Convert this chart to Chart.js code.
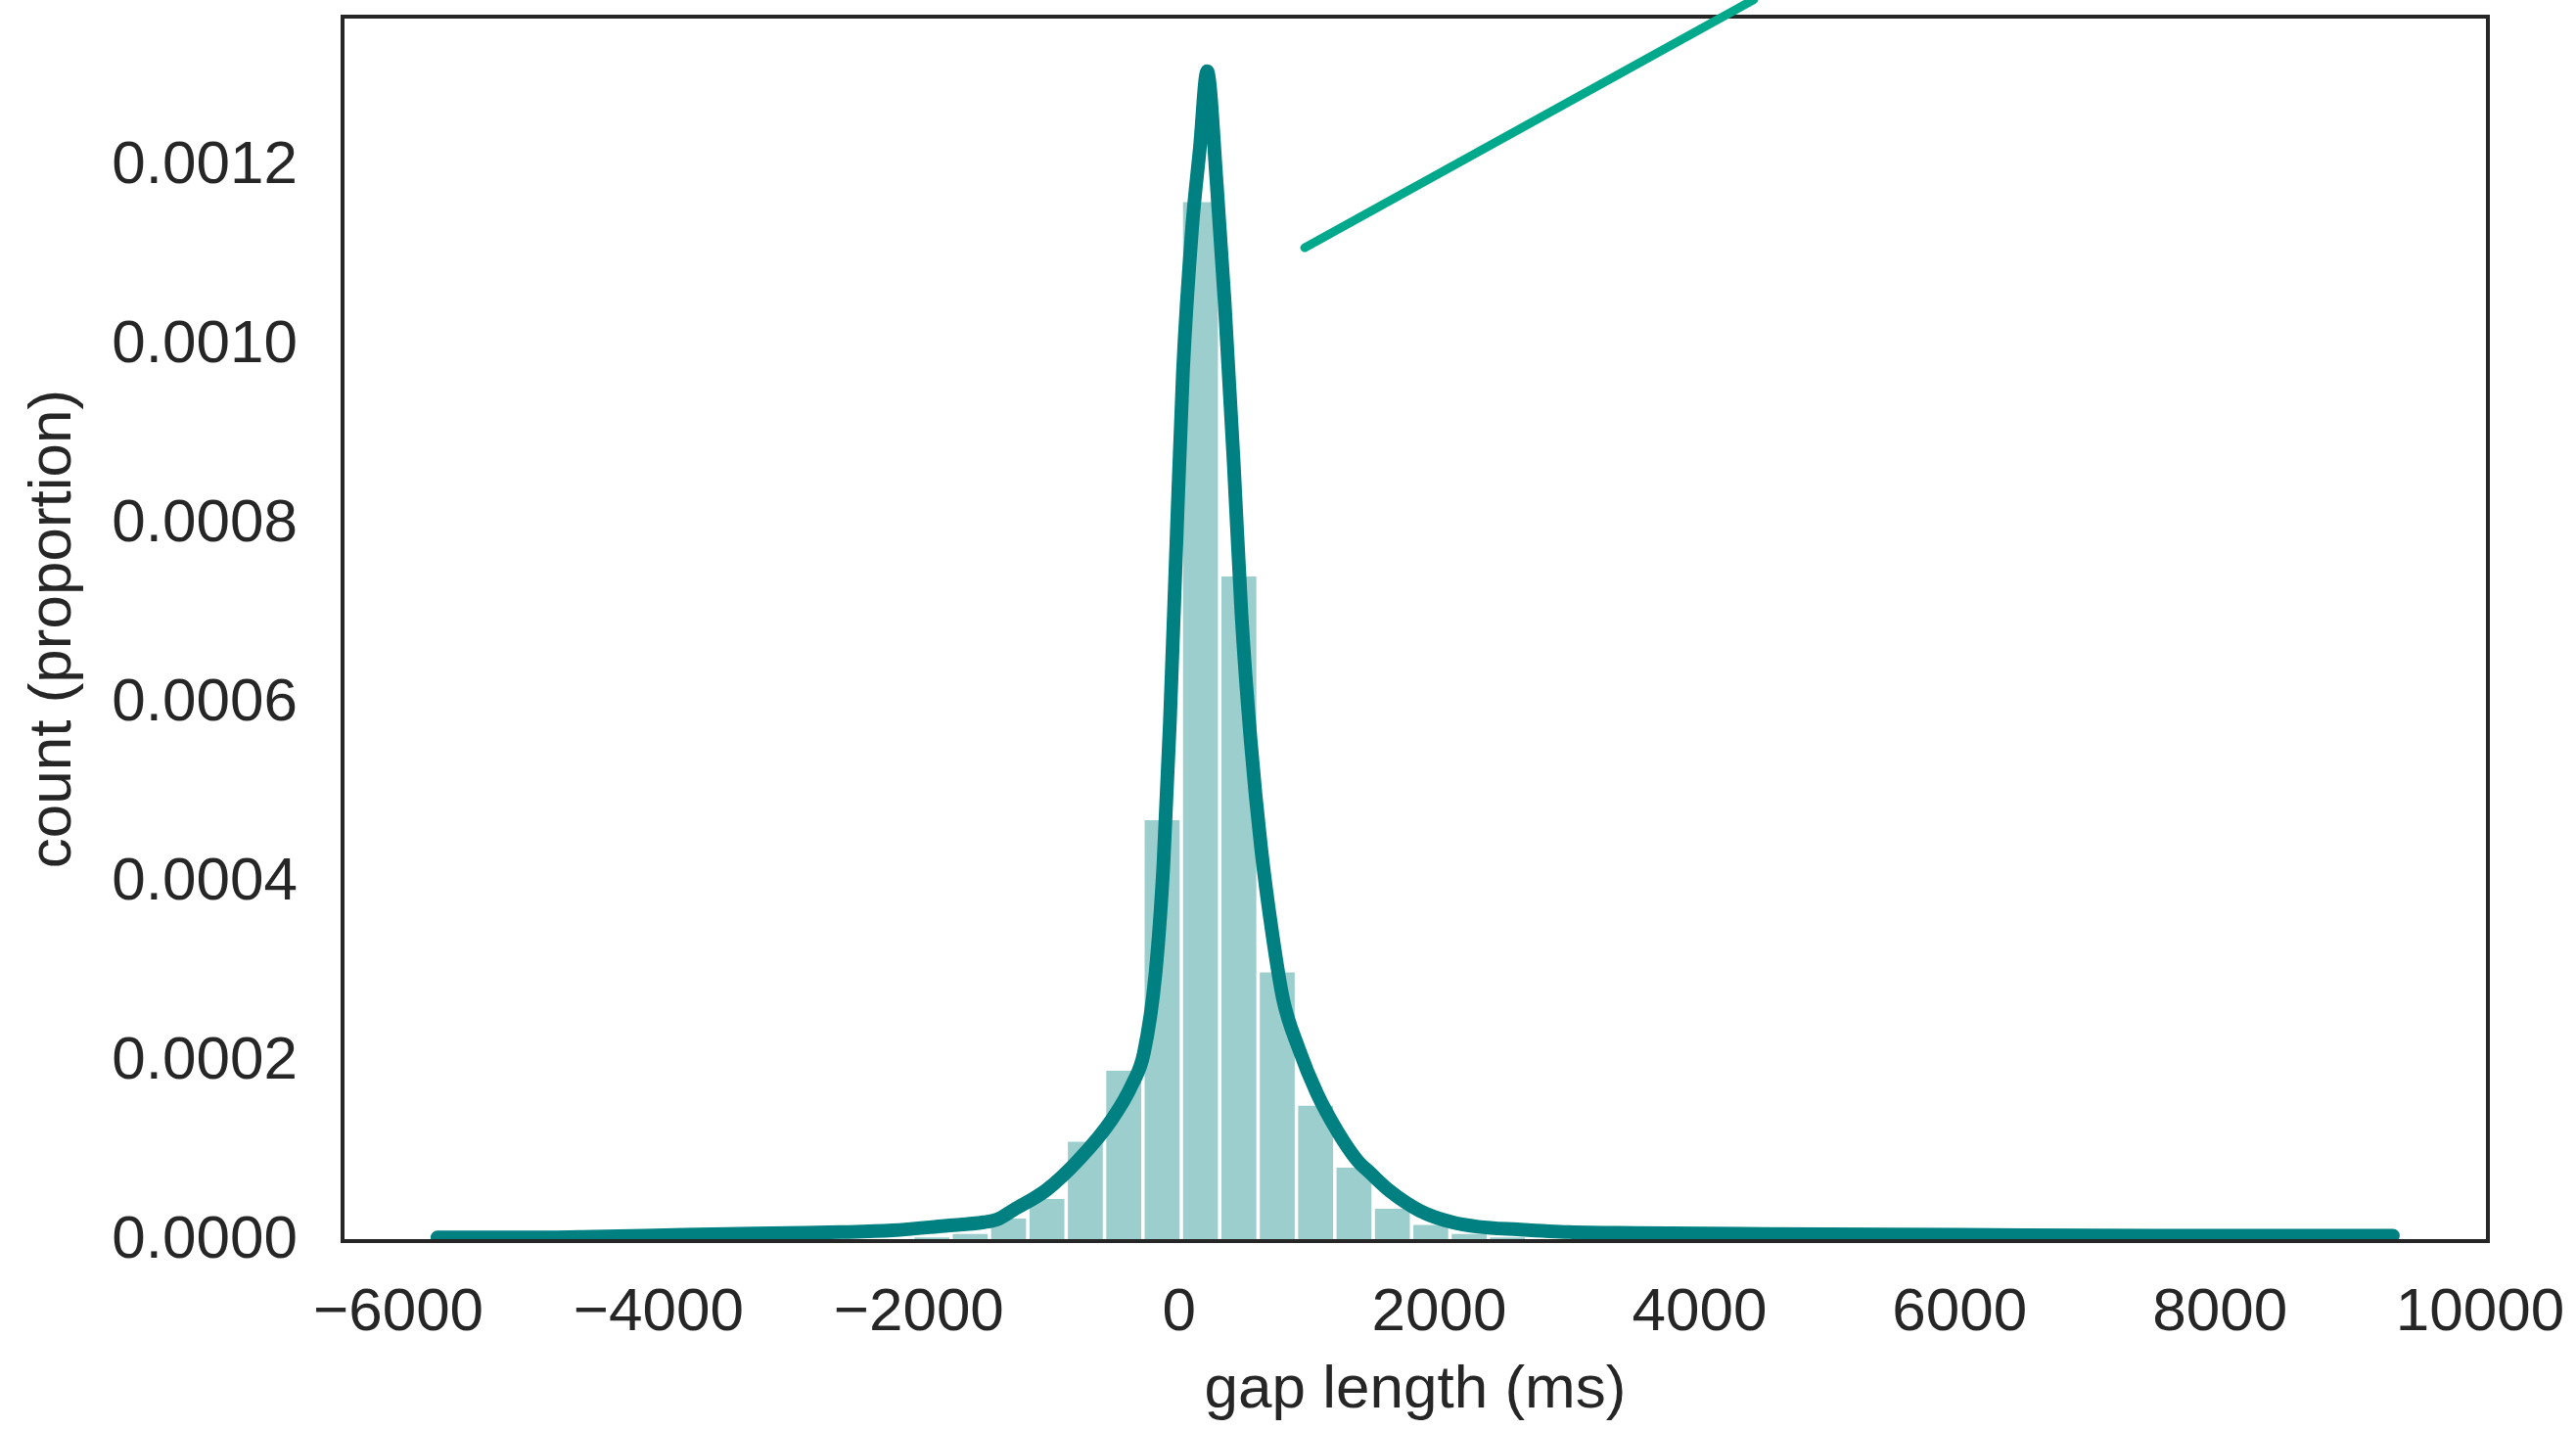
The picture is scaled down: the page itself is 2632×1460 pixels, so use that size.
<!DOCTYPE html>
<html>
<head>
<meta charset="utf-8">
<script src="https://cdn.jsdelivr.net/npm/chart.js@4.4.1/dist/chart.umd.min.js"></script>
<style>
    html, body { margin: 0; padding: 0; background: #fff; }
    #wrap { width: 2632px; height: 1460px; }
</style>
</head>
<body>
<div id="wrap"><canvas id="gapChart" width="2632" height="1460"></canvas></div>
<script>
// histogram bins (bin centre in ms) and their heights (proportion)
const binCenters = [-1900, -1605, -1310, -1015, -720, -425, -130, 165, 460, 755, 1050, 1345, 1640, 1935, 2230, 2525];
const binHeights = [0.000004, 0.000008, 0.000025, 0.000047, 0.000111, 0.00019, 0.00047, 0.00116, 0.000742, 0.0003, 0.000151, 0.000082, 0.000036, 0.000018, 0.000008, 0.000004];

// density curve
const kdeX = [-5700, -5000, -4500, -3800, -3000, -2600, -2200, -1800, -1500, -1400, -1270, -1020, -770, -520, -360, -270, -180, -120, -70, -20, 30, 100, 160, 216, 290, 350, 420, 480, 550, 630, 720, 800, 920, 1060, 1220, 1370, 1470, 1620, 1850, 2100, 2300, 2600, 3000, 3500, 4500, 6000, 7500, 9330];
const kdeY = [0.000004, 0.000004, 0.000005, 0.000007, 0.000009, 0.00001, 0.000012, 0.000017, 0.000021, 0.000024, 0.000035, 0.000057, 0.000091, 0.000135, 0.000175, 0.00021, 0.0003, 0.00042, 0.00058, 0.00078, 0.00097, 0.00113, 0.00122, 0.001306, 0.00118, 0.00105, 0.00087, 0.0007, 0.00056, 0.00044, 0.00034, 0.00027, 0.000215, 0.000165, 0.000122, 0.00009, 0.000076, 0.000056, 0.000034, 0.000021, 0.000016, 0.000013, 0.00001, 0.000009, 0.000008, 0.000007, 0.000006, 0.000006];

// stray pen stroke across the top right
const markX = [966, 4418];
const markY = [0.001109, 0.001386];

const xTicks = [-6000, -4000, -2000, 0, 2000, 4000, 6000, 8000, 10000];
const yTicks = [0, 0.0002, 0.0004, 0.0006, 0.0008, 0.0010, 0.0012];

const textColor = '#262626';
const fontFamily = '"Liberation Sans", Arial, sans-serif';
const fontSize = 62;

// outline of the axes box, drawn over the curve
const framePlugin = {
    id: 'frame',
    afterDatasetDraw(chart, args) {
        if (args.index !== 1) return;
        const { ctx, chartArea: a } = chart;
        ctx.save();
        ctx.strokeStyle = textColor;
        ctx.lineWidth = 4;
        ctx.strokeRect(a.left, a.top, a.right - a.left, a.bottom - a.top);
        ctx.restore();
    }
};

const ctx = document.getElementById('gapChart');

new Chart(ctx, {
    type: 'bar',
    data: {
        datasets: [
            {
                type: 'bar',
                data: binCenters.map((x, i) => ({ x, y: binHeights[i] })),
                backgroundColor: 'rgba(0, 128, 128, 0.39)',
                borderWidth: 0,
                barPercentage: 0.91,
                categoryPercentage: 1,
                order: 2
            },
            {
                type: 'line',
                data: kdeX.map((x, i) => ({ x, y: kdeY[i] })),
                borderColor: '#008080',
                borderWidth: 14,
                borderCapStyle: 'round',
                borderJoinStyle: 'round',
                cubicInterpolationMode: 'monotone',
                pointRadius: 0,
                fill: false,
                order: 1
            },
            {
                type: 'line',
                data: markX.map((x, i) => ({ x, y: markY[i] })),
                borderColor: '#00a88c',
                borderWidth: 9,
                borderCapStyle: 'round',
                pointRadius: 0,
                fill: false,
                clip: false,
                order: 0
            }
        ]
    },
    options: {
        responsive: false,
        animation: false,
        events: [],
        layout: { padding: { left: 0, top: 17, right: 90, bottom: 0 } },
        plugins: {
            legend: { display: false },
            tooltip: { enabled: false }
        },
        scales: {
            x: {
                type: 'linear',
                offset: false,
                min: -6429,
                max: 10060,
                afterFit: (scale) => {
                    scale.height = 192;
                    scale.paddingLeft = 0;
                    scale.paddingRight = 0;
                },
                afterBuildTicks: (scale) => { scale.ticks = xTicks.map(v => ({ value: v })); },
                grid: { display: false, drawTicks: false, offset: false },
                border: { display: false },
                ticks: {
                    padding: 37,
                    color: textColor,
                    font: { family: fontFamily, size: fontSize },
                    maxRotation: 0,
                    autoSkip: false,
                    callback: (v) => v < 0 ? '\u2212' + Math.abs(v) : String(v)
                },
                title: {
                    display: true,
                    text: 'gap length (ms)',
                    color: textColor,
                    font: { family: fontFamily, size: fontSize },
                    padding: { top: 0, bottom: 2 }
                }
            },
            y: {
                min: 0,
                max: 0.001367,
                afterFit: (scale) => {
                    scale.width = 350;
                    scale.paddingTop = 0;
                    scale.paddingBottom = 0;
                },
                afterBuildTicks: (scale) => { scale.ticks = yTicks.map(v => ({ value: v })); },
                grid: { display: false, drawTicks: false },
                border: { display: false },
                ticks: {
                    padding: 46,
                    color: textColor,
                    font: { family: fontFamily, size: fontSize },
                    callback: (v) => v.toFixed(4)
                },
                title: {
                    display: true,
                    text: 'count (proportion)',
                    color: textColor,
                    font: { family: fontFamily, size: fontSize },
                    padding: { top: 18, bottom: 0 }
                }
            }
        }
    },
    plugins: [framePlugin]
});
</script>
</body>
</html>
